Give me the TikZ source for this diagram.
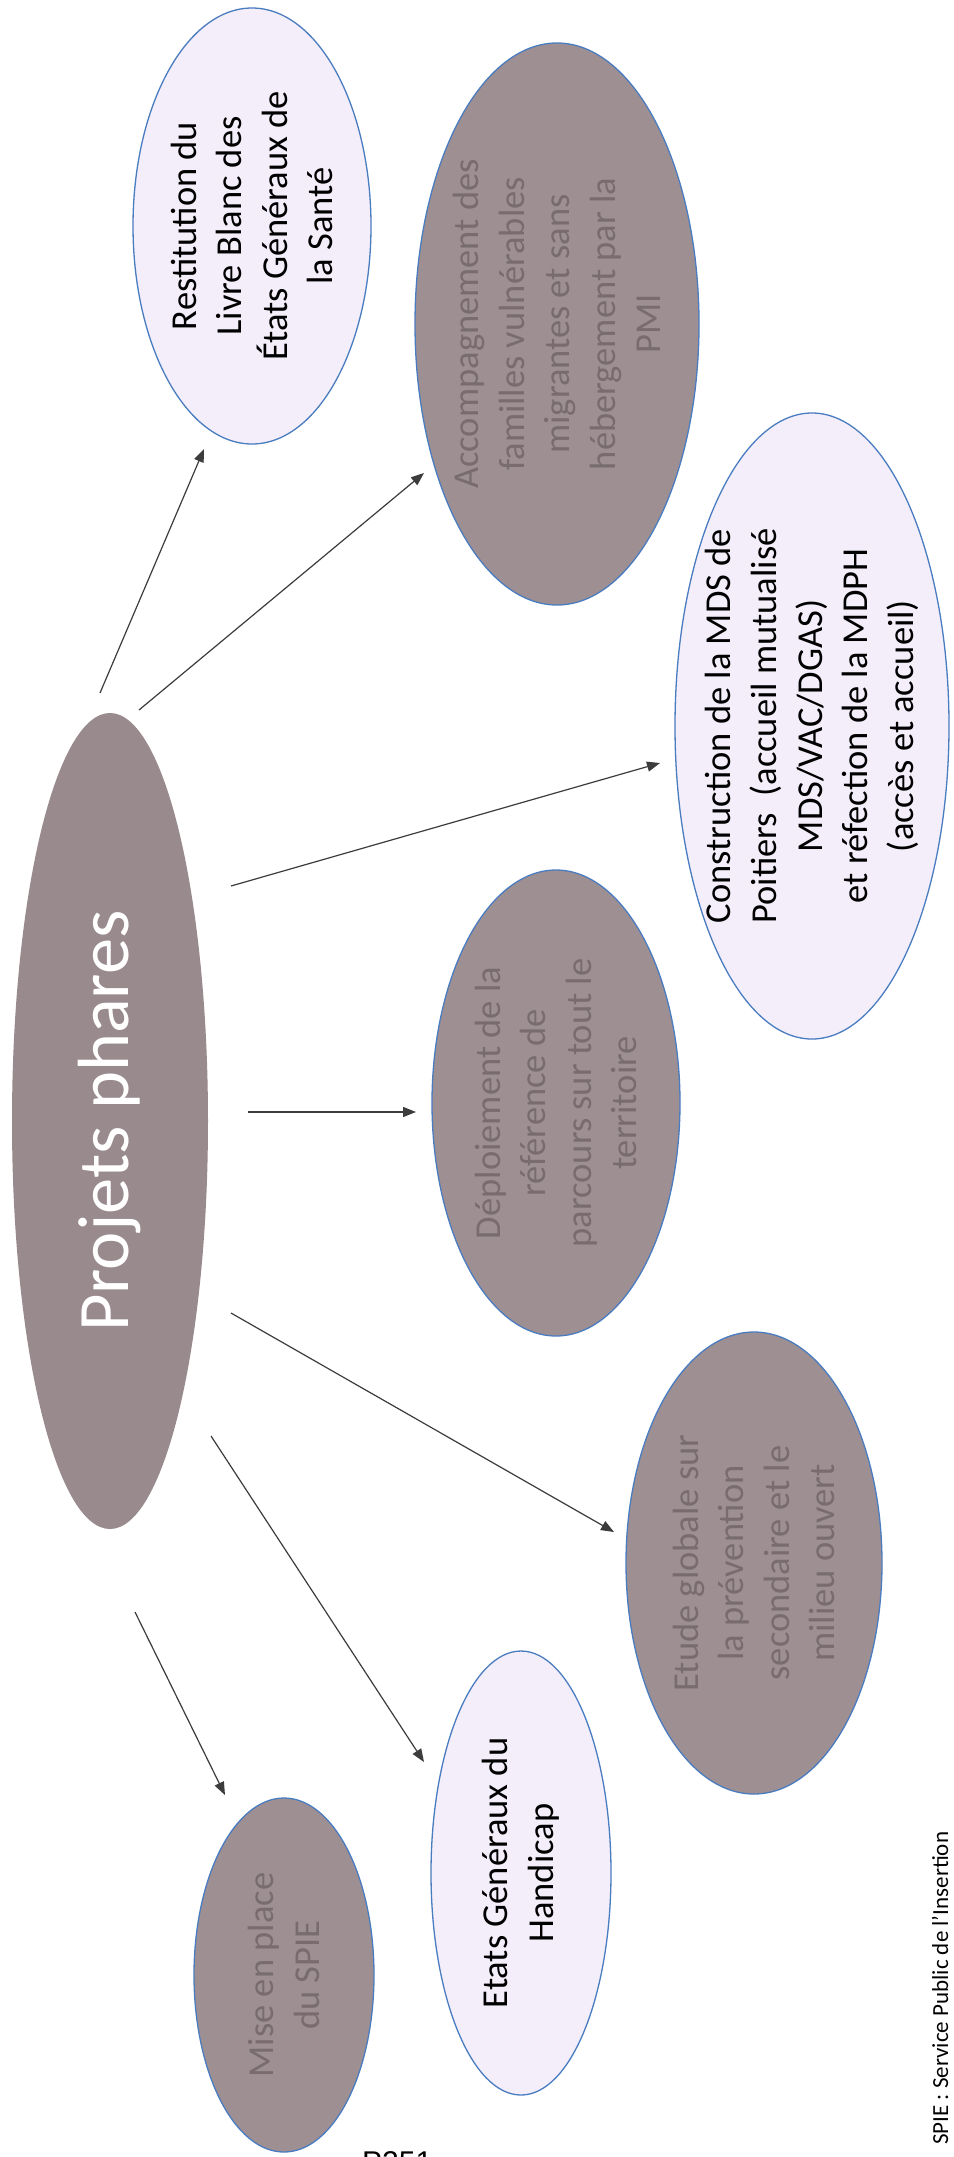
\documentclass[tikz,border=0pt]{standalone}
\usepackage{fontspec}
\setmainfont{Carlito}
\newfontfamily\pagefont{Liberation Sans}
\usetikzlibrary{arrows.meta,shapes.geometric}
\definecolor{darkfill}{HTML}{9E8F93}
\definecolor{ppfill}{HTML}{998A8D}
\definecolor{darktext}{HTML}{786C6E}
\definecolor{lightfill}{HTML}{F3EEFA}
\definecolor{rim}{HTML}{4A7CC0}
\definecolor{arrowcol}{HTML}{3C3C3C}
\tikzset{
  lightell/.style={ellipse, draw=rim, line width=1.3pt, fill=lightfill, inner sep=0pt},
  darkell/.style={ellipse, draw=rim, line width=1.3pt, fill=darkfill, inner sep=0pt},
  centreell/.style={ellipse, fill=ppfill, inner sep=0pt},
  lbl/.style={rotate=90, align=center, inner sep=0pt, font=\fontsize{36.5}{45.6}\selectfont},
  lbldark/.style={lbl, text=darktext},
  lbllight/.style={lbl, text=black},
  arr/.style={draw=arrowcol, line width=1.2pt, -{Triangle[length=13pt,width=10pt]}}
}
\begin{document}
\begin{tikzpicture}[x=1pt,y=-1pt]
\useasboundingbox[fill=white] (0,0) rectangle (953,2157);

% ellipses
\node[centreell, minimum width=196, minimum height=816] (pp) at (110,1121) {};
\node[lightell, minimum width=238, minimum height=436] (res) at (252,226) {};
\node[darkell, minimum width=284, minimum height=562] (acc) at (557,324) {};
\node[lightell, minimum width=274, minimum height=626] (con) at (812,726) {};
\node[darkell, minimum width=248, minimum height=466] (dep) at (556,1103) {};
\node[darkell, minimum width=256, minimum height=462] (etu) at (754,1563) {};
\node[lightell, minimum width=180, minimum height=444] (eta) at (521,1873) {};
\node[darkell, minimum width=180, minimum height=354] (mis) at (284,1975) {};

% texts
\node[rotate=90, inner sep=0pt, text=white, font=\fontsize{72.5}{88}\selectfont] (ppt) at (pp) {Projets phares};
\node[lbllight] (rest) at (res) {Restitution du\\Livre Blanc des\\États Généraux de\\la Santé};
\node[lbldark] (acct) at (acc) {Accompagnement des\\familles vulnérables\\migrantes et sans\\hébergement par la\\PMI};
\node[lbllight] (cont) at (con) {Construction de la MDS de\\Poitiers~~(accueil mutualisé\\MDS/VAC/DGAS)\\et réfection de la MDPH\\(accès et accueil)};
\node[lbldark] (dept) at (dep) {Déploiement de la\\référence de\\parcours sur tout le\\territoire};
\node[lbldark] (etut) at (etu) {Etude globale sur\\la prévention\\secondaire et le\\milieu ouvert};
\node[lbllight] (etat) at (eta) {Etats Généraux du\\Handicap};
\node[lbldark] (mist) at (mis) {Mise en place\\du SPIE};

% footnote and page number
\node[rotate=90, anchor=base west, inner sep=0pt, font=\fontsize{23}{28}\selectfont] (foot) at (948,2145) {SPIE : Service Public de l’Insertion};
\node[anchor=base west, inner sep=0pt, font=\pagefont\fontsize{30}{36}\selectfont] (pg) at (362,2172) {P251};

% connector ends
\coordinate (s1) at (100,693);  \coordinate (e1) at (204,449);
\coordinate (s2) at (139,710);  \coordinate (e2) at (424,473);
\coordinate (s3) at (231,886);  \coordinate (e3) at (660,763);
\coordinate (s4) at (248,1112); \coordinate (e4) at (416,1112);
\coordinate (s5) at (231,1313); \coordinate (e5) at (614,1532);
\coordinate (s6) at (211,1436); \coordinate (e6) at (424,1762);
\coordinate (s7) at (135,1612); \coordinate (e7) at (225,1795);

\draw[arr] (s1) -- (e1);
\draw[arr] (s2) -- (e2);
\draw[arr] (s3) -- (e3);
\draw[arr] (s4) -- (e4);
\draw[arr] (s5) -- (e5);
\draw[arr] (s6) -- (e6);
\draw[arr] (s7) -- (e7);
\end{tikzpicture}
\end{document}
